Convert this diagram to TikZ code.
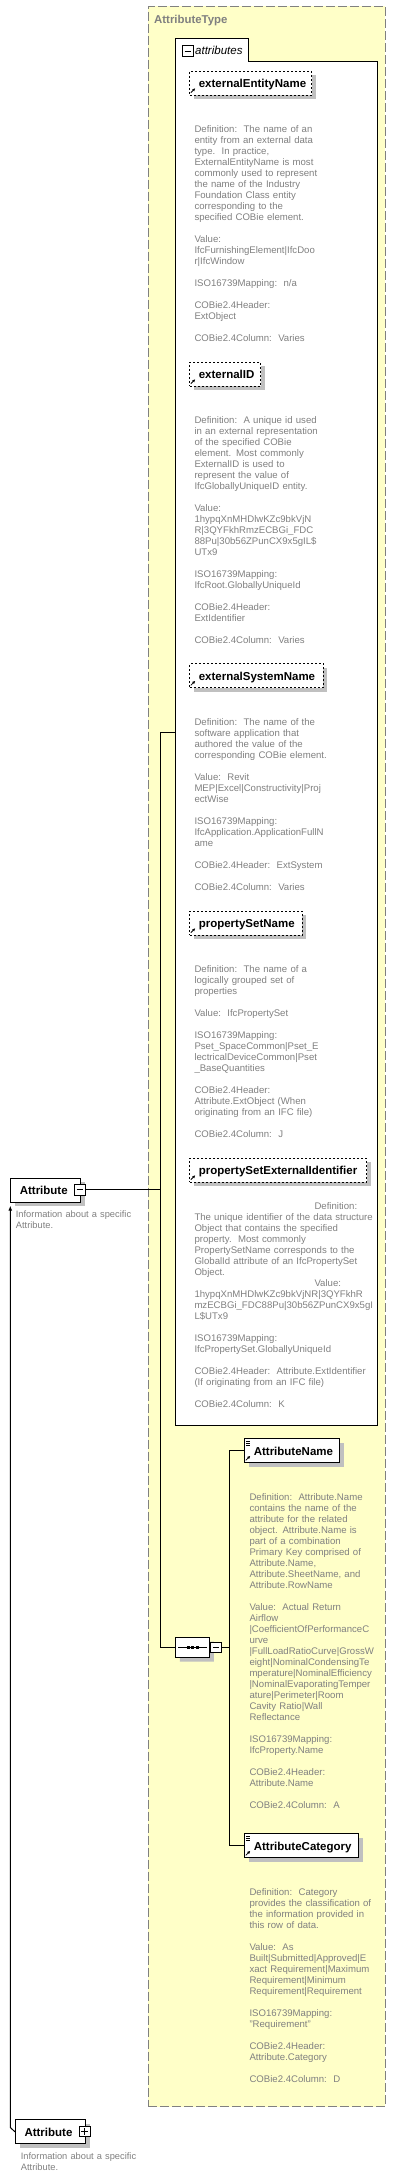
\documentclass[tikz,border=0pt]{standalone}
\usepackage{fontspec}
\setmainfont{Liberation Sans}
\usetikzlibrary{arrows.meta,shapes.misc,shadows}
\definecolor{typeyellow}{RGB}{255,255,200}
\definecolor{shadowgray}{RGB}{192,192,192}
\definecolor{descgray}{RGB}{128,128,128}
\hyphenpenalty=10000
\exhyphenpenalty=10000
\begin{document}
\begin{tikzpicture}[x=1pt,y=-1pt,>={Latex[length=5pt,width=4pt]},
    conn/.style={line width=1pt},
    boxshadow/.style={drop shadow={shadow xshift=4pt,shadow yshift=-4pt,fill=shadowgray,opacity=1}},
    elem/.style={draw,fill=white,line width=1pt,anchor=north west,inner xsep=9pt,inner ysep=0pt,
        minimum height=24pt,text height=10pt,text depth=1pt,align=left,text width=#1,
        font=\fontsize{11.5}{13}\selectfont\bfseries,boxshadow},
    optelem/.style={elem=#1,dash pattern=on 2pt off 2pt},
    descr/.style={anchor=base west,inner sep=0pt,text width=200pt,align=left,text=descgray,
        font=\fontsize{9.6}{11}\selectfont},
    note/.style={descr,font=\fontsize{9.3}{11}\selectfont},
    collapse/.style={draw,fill=white,line width=1pt,minimum size=10.6pt,inner sep=0pt,
        path picture={\draw[line width=1pt] ([xshift=2pt]path picture bounding box.west) -- ([xshift=-2pt]path picture bounding box.east);}},
    expand/.style={collapse,
        path picture={\draw[line width=1pt] ([xshift=2pt]path picture bounding box.west) -- ([xshift=-2pt]path picture bounding box.east)
        ([yshift=2pt]path picture bounding box.south) -- ([yshift=-2pt]path picture bounding box.north);}},
    seqbox/.style={chamfered rectangle,chamfered rectangle xsep=6pt,chamfered rectangle ysep=6pt,draw,fill=white,
        line width=1pt,inner sep=0pt,minimum width=34pt,minimum height=20pt,boxshadow},
    refarrow/.style={line width=.8pt,-{Latex[length=3pt,width=3pt]}}]
\useasboundingbox (0,0) rectangle (402,2177);

\node[draw=descgray,fill=typeyellow,line width=1pt,dash pattern=on 9pt off 3pt,anchor=north west,inner sep=0pt,
    minimum width=237pt,minimum height=2100.5pt] (atype) at (147.5,5.5) {};
\node[anchor=base west,inner sep=0pt,text=descgray,font=\fontsize{11.4}{13}\selectfont\bfseries] (atypelabel) at (154,23.3) {AttributeType};

\draw[fill=white,line width=1pt] (175.7,1425) |- (248.3,38.3) |- (377.7,61.7) |- cycle;
\node[collapse] (grpmin) at (188,51) {};
\node[anchor=base west,inner sep=0pt,font=\fontsize{11.5}{13}\selectfont\itshape] (grp) at (195,54.3) {attributes};
\coordinate (attrs) at (175.7,732.3);
\coordinate (spine) at (160.3,732.3);

\node[optelem=103.7pt] (een) at (189.3,70.7) {externalEntityName};
\node[descr] (een-d) at (194.3,132.3) {Definition:~~The name of an\\
entity from an external data\\
type.~~In practice,\\
ExternalEntityName is most\\
commonly used to represent\\
the name of the Industry\\
Foundation Class entity\\
corresponding to the\\
specified COBie element.\\[11pt]
Value:\\
IfcFurnishingElement|IfcDoo\\
r|IfcWindow\\[11pt]
ISO16739Mapping:~~n/a\\[11pt]
COBie2.4Header:\\
ExtObject\\[11pt]
COBie2.4Column:~~Varies};

\node[optelem=52.7pt] (eid) at (189.3,361.7) {externalID};
\node[descr] (eid-d) at (194.3,423.3) {Definition:~~A unique id used\\
in an external representation\\
of the specified COBie\\
element. Most commonly\\
ExternalID is used to\\
represent the value of\\
IfcGloballyUniqueID entity.\\[11pt]
Value:\\
1hypqXnMHDlwKZc9bkVjN\\
R|3QYFkhRmzECBGi\_FDC\\
88Pu|30b56ZPunCX9x5gIL\$\\
UTx9\\[11pt]
ISO16739Mapping:\\
IfcRoot.GloballyUniqueId\\[11pt]
COBie2.4Header:\\
ExtIdentifier\\[11pt]
COBie2.4Column:~~Varies};

\node[optelem=115.4pt] (esn) at (189.3,663.3) {externalSystemName};
\node[descr] (esn-d) at (194.3,725.7) {Definition:~~The name of the\\
software application that\\
authored the value of the\\
corresponding COBie element.\\[11pt]
Value:~~Revit\\
MEP|Excel|Constructivity|Proj\\
ectWise\\[11pt]
ISO16739Mapping:\\
IfcApplication.ApplicationFullN\\
ame\\[11pt]
COBie2.4Header:~~ExtSystem\\[11pt]
COBie2.4Column:~~Varies};

\node[optelem=94.4pt] (psn) at (189.3,910.7) {propertySetName};
\node[descr] (psn-d) at (194.3,972.7) {Definition:~~The name of a\\
logically grouped set of\\
properties\\[11pt]
Value:~~IfcPropertySet\\[11pt]
ISO16739Mapping:\\
Pset\_SpaceCommon|Pset\_E\\
lectricalDeviceCommon|Pset\\
\_BaseQuantities\\[11pt]
COBie2.4Header:\\
Attribute.ExtObject (When\\
originating from an IFC file)\\[11pt]
COBie2.4Column:~~J};

\node[optelem=158.7pt] (pse) at (189.3,1157.7) {propertySetExternalIdentifier};
\node[descr] (pse-d) at (194.3,1209) {\hspace*{120pt}Definition:\\
The unique identifier of the data structure\\
Object that contains the specified\\
property.~~Most commonly\\
PropertySetName corresponds to the\\
GlobalId attribute of an IfcPropertySet\\
Object.\\
\hspace*{120pt}Value:\\
1hypqXnMHDlwKZc9bkVjNR|3QYFkhR\\
mzECBGi\_FDC88Pu|30b56ZPunCX9x5gI\\
L\$UTx9\\[11pt]
ISO16739Mapping:\\
IfcPropertySet.GloballyUniqueId\\[11pt]
COBie2.4Header:~~Attribute.ExtIdentifier\\
(If originating from an IFC file)\\[11pt]
COBie2.4Column:~~K};

\node[seqbox] (seq) at (192.8,1647.5) {};
\draw[conn] ([xshift=3pt]seq.west) -- ([xshift=-3pt]seq.east);
\foreach \dx in {-4.5,0,4.5}
    \node[fill,inner sep=0pt,minimum size=3pt] at ([xshift=\dx pt]seq.center) {};
\node[collapse,anchor=west] (seqmin) at (seq.east) {};
\coordinate (fork) at (229.3,1647.5);

\node[elem=77pt] (aname) at (244.3,1438.3) {AttributeName};
\node[descr] (aname-d) at (249.3,1500.7) {Definition:~~Attribute.Name\\
contains the name of the\\
attribute for the related\\
object. Attribute.Name is\\
part of a combination\\
Primary Key comprised of\\
Attribute.Name,\\
Attribute.SheetName, and\\
Attribute.RowName\\[11pt]
Value:~~Actual Return\\
Airflow\\
|CoefficientOfPerformanceC\\
urve\\
|FullLoadRatioCurve|GrossW\\
eight|NominalCondensingTe\\
mperature|NominalEfficiency\\
|NominalEvaporatingTemper\\
ature|Perimeter|Room\\
Cavity Ratio|Wall\\
Reflectance\\[11pt]
ISO16739Mapping:\\
IfcProperty.Name\\[11pt]
COBie2.4Header:\\
Attribute.Name\\[11pt]
COBie2.4Column:~~A};

\node[elem=96pt] (acat) at (244.3,1833.3) {AttributeCategory};
\node[descr] (acat-d) at (249.3,1895.7) {Definition:~~Category\\
provides the classification of\\
the information provided in\\
this row of data.\\[11pt]
Value:~~As\\
Built|Submitted|Approved|E\\
xact Requirement|Maximum\\
Requirement|Minimum\\
Requirement|Requirement\\[11pt]
ISO16739Mapping:\\
"Requirement"\\[11pt]
COBie2.4Header:\\
Attribute.Category\\[11pt]
COBie2.4Column:~~D};

\foreach \n in {een,eid,esn,psn,pse,aname,acat}
    \draw[refarrow] ([shift={(1.5pt,3pt)}]\n.south west) -- ++(4.5,-4.5);
\foreach \n in {aname,acat}
    \foreach \dy in {2.7,4.7,6.7}
        \draw[line width=.8pt] ([shift={(1.5pt,-\dy pt)}]\n.north west) -- ++(4.5,0);

\node[elem=51.7pt] (attr1) at (10.3,1177.7) {Attribute};
\node[collapse] (attr1min) at (80,1189.7) {};
\node[note] (attr1-d) at (15.7,1217.3) {Information about a specific\\Attribute.};

\node[elem=52pt] (attr2) at (15,2119.3) {Attribute};
\node[expand] (attr2plus) at (84.7,2131.3) {};
\node[note] (attr2-d) at (20.7,2159.7) {Information about a specific\\Attribute.};

\draw[conn] (attr1min.east) -- (attr1min.east -| spine);
\draw[conn] (attrs) -- (spine) |- (seq.west);
\draw[conn] (seqmin.east) -- (fork);
\draw[conn] (fork) |- (aname.west);
\draw[conn] (fork) |- (acat.west);
\draw[conn,->] (attr2.west) -- ++(-4.7,-4.3) -- ([yshift=-3pt]attr1.south west);
\end{tikzpicture}
\end{document}
